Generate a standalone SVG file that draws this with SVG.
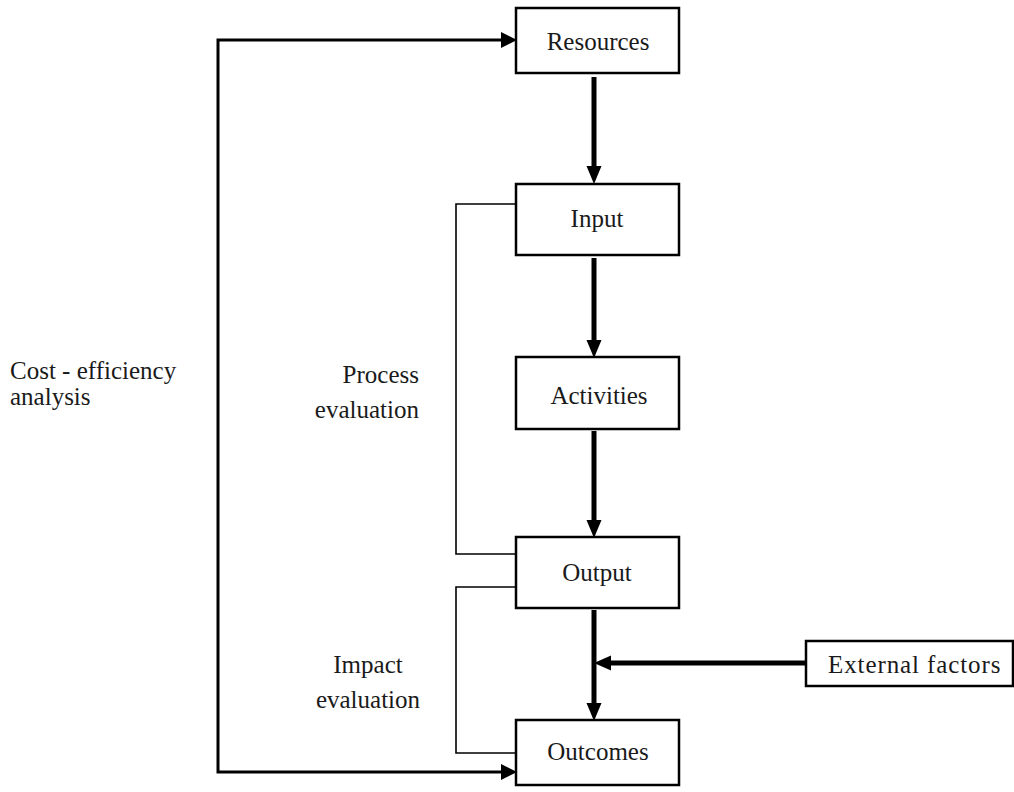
<svg xmlns="http://www.w3.org/2000/svg" width="1014" height="792" viewBox="0 0 1014 792">
<style>
.box{fill:#fff;stroke:#000;stroke-width:2.5}
.t{font-family:"Liberation Serif","Times New Roman",serif;font-size:25px;fill:#1a1a1a}
.thick{stroke:#000;stroke-width:5;fill:none}
.thin{stroke:#000;stroke-width:3;fill:none}
.br{stroke:#000;stroke-width:1.6;fill:none}
</style>
<rect width="1014" height="792" fill="#fff"/>
<g id="connectors">
<path class="br" d="M516,204 H456 V554 H516"/>
<path class="br" d="M516,587 H456 V753 H516"/>
<path class="thin" d="M502,40 H218 V772 H502"/>
<polygon points="501,32 517,40 501,48"/>
<polygon points="501,764 517,772 501,780"/>
<line class="thick" x1="594" y1="77" x2="594" y2="170"/>
<polygon points="586.5,166 601.5,166 594,184"/>
<line class="thick" x1="594" y1="258" x2="594" y2="344"/>
<polygon points="586.5,340 601.5,340 594,358"/>
<line class="thick" x1="594" y1="431" x2="594" y2="524"/>
<polygon points="586.5,520 601.5,520 594,538"/>
<line class="thick" x1="594" y1="610" x2="594" y2="707"/>
<polygon points="586.5,703 601.5,703 594,721"/>
<line class="thick" x1="806" y1="663" x2="608" y2="663"/>
<polygon points="611,655.5 611,670.5 594,663"/>
</g>
<g id="resources"><rect class="box" x="516" y="8" width="163" height="65"/><text class="t" x="598" y="50" text-anchor="middle">Resources</text></g>
<g id="input"><rect class="box" x="516" y="184" width="163" height="71"/><text class="t" x="597" y="227" text-anchor="middle">Input</text></g>
<g id="activities"><rect class="box" x="516" y="357" width="163" height="72"/><text class="t" x="599" y="404" text-anchor="middle">Activities</text></g>
<g id="output"><rect class="box" x="516" y="537" width="163" height="71"/><text class="t" x="597" y="581" text-anchor="middle">Output</text></g>
<g id="outcomes"><rect class="box" x="516" y="720" width="163" height="65"/><text class="t" x="598" y="760" text-anchor="middle">Outcomes</text></g>
<g id="external"><rect class="box" x="806" y="641" width="207" height="45"/><text class="t" x="828" y="673" letter-spacing="0.9">External factors</text></g>
<g id="labels">
<text class="t" x="10" y="379">Cost - efficiency</text>
<text class="t" x="10" y="405">analysis</text>
<text class="t" x="419" y="383" text-anchor="end">Process</text>
<text class="t" x="419" y="418" text-anchor="end">evaluation</text>
<text class="t" x="368" y="673" text-anchor="middle">Impact</text>
<text class="t" x="368" y="708" text-anchor="middle">evaluation</text>
</g>
</svg>
